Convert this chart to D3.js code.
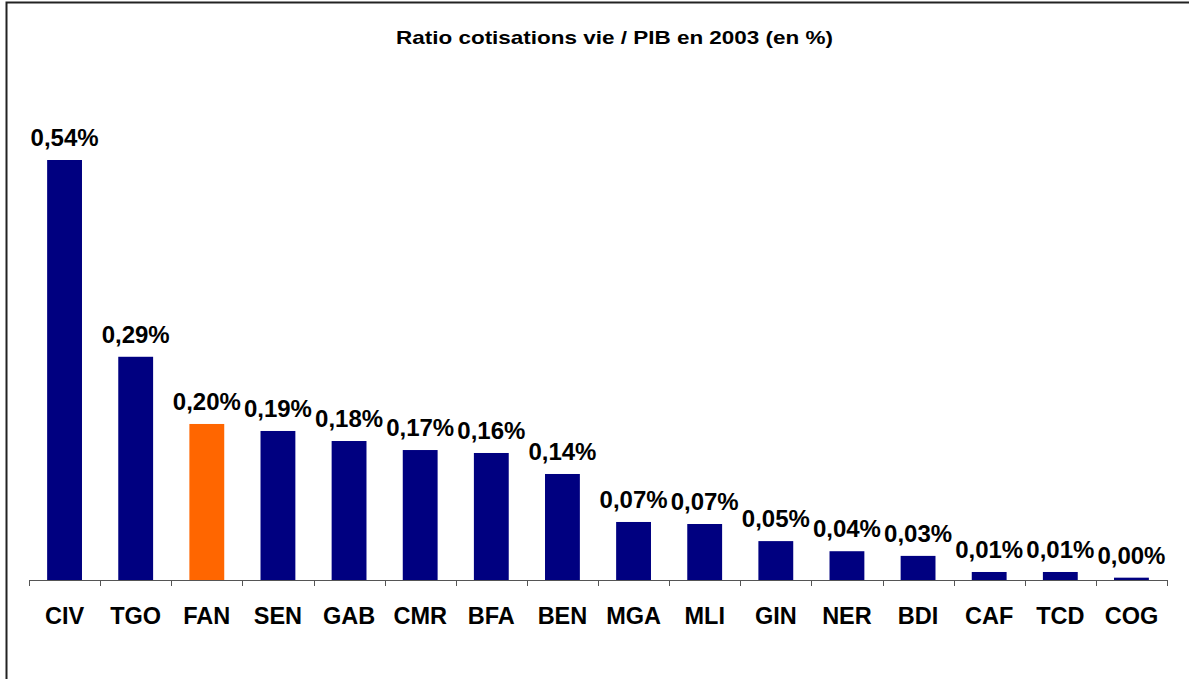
<!DOCTYPE html>
<html><head><meta charset="utf-8">
<script src="https://cdn.jsdelivr.net/npm/d3@7"></script>
<style>body{margin:0;background:#fff}svg{display:block}text{font-family:"Liberation Sans",Arial,sans-serif;font-weight:bold;fill:#000}</style>
</head><body>
<script>
const categories = ["CIV","TGO","FAN","SEN","GAB","CMR","BFA","BEN","MGA","MLI","GIN","NER","BDI","CAF","TCD","COG"];
const values = [0.54,0.287,0.2006,0.1916,0.1787,0.1671,0.1633,0.1363,0.0746,0.072,0.050,0.037,0.031,0.0103,0.0103,0.003];
const valueLabels = ["0,54%","0,29%","0,20%","0,19%","0,18%","0,17%","0,16%","0,14%","0,07%","0,07%","0,05%","0,04%","0,03%","0,01%","0,01%","0,00%"];
const highlight = "FAN";
const title = "Ratio cotisations vie / PIB en 2003 (en %)";

const W = 1189, H = 679;
const svg = d3.select("body").append("svg").attr("width", W).attr("height", H);

// frame
svg.append("path").attr("d", "M6.5,700 V2.5 H1200").attr("fill","none").attr("stroke","#222").attr("stroke-width",2);

const x = d3.scaleBand().domain(categories).range([29, 1167]).paddingInner(0.51).paddingOuter(0.255);
const y = d3.scaleLinear().domain([0, 0.54]).range([580, 160]);

svg.append("text").attr("x", 396).attr("y", 43.5)
  .attr("textLength", 437).attr("lengthAdjust","spacingAndGlyphs")
  .style("font-size","19px").text(title);

svg.selectAll("rect.bar").data(categories).join("rect")
  .attr("class","bar")
  .attr("x", d => x(d))
  .attr("width", x.bandwidth())
  .attr("y", (d,i) => y(values[i]))
  .attr("height", (d,i) => y(0) - y(values[i]))
  .attr("fill", d => d === highlight ? "#FF6600" : "#000080");

svg.selectAll("text.val").data(categories).join("text")
  .attr("class","val")
  .attr("x", d => x(d) + x.bandwidth()/2)
  .attr("y", (d,i) => y(values[i]) - 14)
  .attr("text-anchor","middle")
  .style("font-size","24px")
  .text((d,i) => valueLabels[i]);

// axis
const band = d3.scaleBand().domain(categories).range([29, 1167]);
const ax = svg.append("g");
ax.append("line").attr("x1",29).attr("x2",1167).attr("y1",580.5).attr("y2",580.5).attr("stroke","#555").attr("stroke-width",1);
const ticks = categories.map(d => band(d)).concat([1167]);
ax.selectAll("line.tick").data(ticks).join("line").attr("class","tick")
  .attr("x1", d => Math.round(d)+0.5).attr("x2", d => Math.round(d)+0.5)
  .attr("y1",580).attr("y2",586).attr("stroke","#555");

svg.selectAll("text.cat").data(categories).join("text")
  .attr("class","cat")
  .attr("x", d => band(d) + band.bandwidth()/2)
  .attr("y", 624)
  .attr("text-anchor","middle")
  .style("font-size","23.5px")
  .text(d => d);
</script>
</body></html>
